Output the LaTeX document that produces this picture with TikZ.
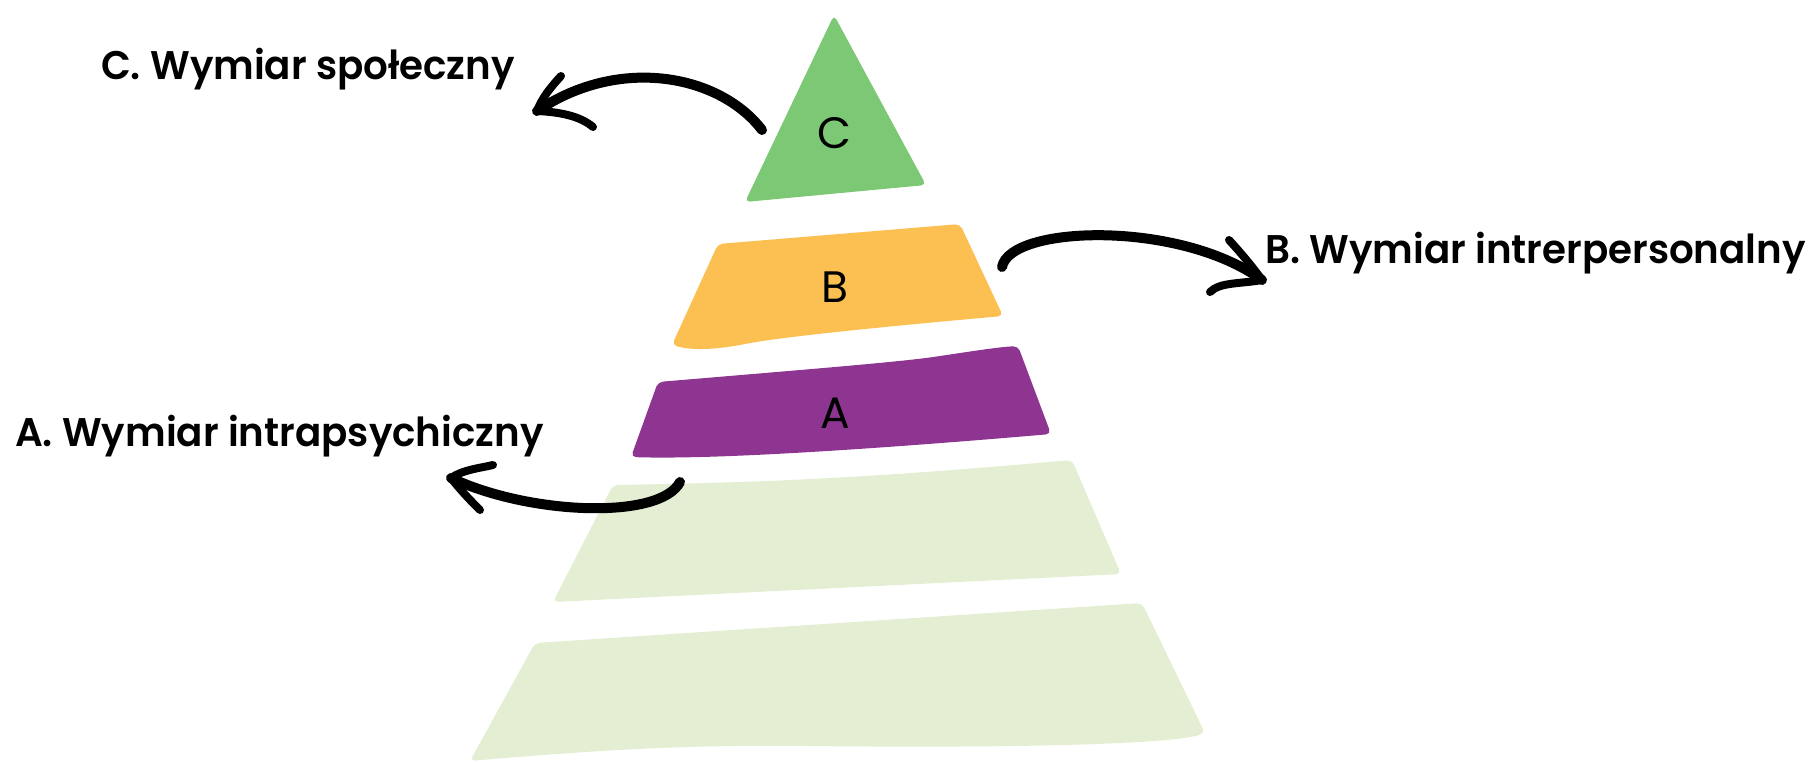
\documentclass[tikz,border=0pt]{standalone}
\usepackage{fontspec}
\setmainfont{Poppins}
\IfFontExistsTF{Poppins SemiBold}
  {\newfontfamily\titlefont{Poppins SemiBold}[FakeStretch=0.97]}
  {\newfontfamily\titlefont{Poppins}[FakeStretch=0.95,UprightFont=*,BoldFont=*]}
\definecolor{cgreen}{RGB}{125,200,116}
\definecolor{corange}{RGB}{251,191,82}
\definecolor{cpurple}{RGB}{142,52,145}
\definecolor{clight}{RGB}{227,238,211}
\tikzset{
  band/.style={rounded corners=5pt},
  letter/.style={font=\fontsize{44}{48}\selectfont, inner sep=0pt},
  title/.style={font=\fontsize{40}{44}\selectfont\titlefont, inner sep=0pt, anchor=base west},
  brush/.style={line width=10pt, line cap=round, line join=round},
  barb/.style={line width=8pt, line cap=round, line join=round}
}
\begin{document}
\begin{tikzpicture}[x=1pt,y=-1pt]
\useasboundingbox (0,0) rectangle (1815,761);
% bands
\fill[clight,band] (535,643) -- (1142,603) -- (1205,733) .. controls (1170,745) and (1000,748) .. (809,746) .. controls (700,745) and (620,748) .. (470,761) -- cycle;
\fill[clight,band] (613,485) .. controls (800,482) and (900,475) .. (1072,460) -- (1121,574) -- (553,602) -- cycle;
\fill[cpurple,band] (658,382) .. controls (800,370) and (900,362) .. (940,356) .. controls (980,350) and (1000,347) .. (1018,346) -- (1051,434) .. controls (900,447) and (720,460) .. (631,457) -- cycle;
\fill[corange,band] (718,244) -- (960,224) -- (1003,316) .. controls (880,327) and (780,337) .. (740,345) .. controls (710,350) and (690,350) .. (672,345) -- cycle;
\fill[cgreen,band] (834,15) -- (926,185) -- (745,202) -- cycle;
% letters
\node[letter] (lc) at (834,133) {C};
\node[letter] (lb) at (835,287) {B};
\node[letter] (la) at (835,413) {A};
% titles
\node[title] (tc) at (101,79) {C. Wymiar społeczny};
\node[title] (tb) at (1265,263) {B. Wymiar intrerpersonalny};
\node[title] (ta) at (15,446) {A. Wymiar intrapsychiczny};
% arrow C
\coordinate (cTail) at (762,130);
\coordinate (cTip) at (537,111);
\coordinate (cB1) at (561,76);
\coordinate (cB2) at (593,127);
\draw[brush] (cTail) .. controls (720,75) and (620,55) .. (cTip);
\draw[barb] (cB1) .. controls (550,88) and (542,98) .. (cTip) .. controls (560,112) and (580,116) .. (cB2);
% arrow B
\coordinate (bTail) at (1002,267);
\coordinate (bTip) at (1262,280);
\coordinate (bB1) at (1229,240);
\coordinate (bB2) at (1210,292);
\draw[brush] (bTail) .. controls (1010,225) and (1180,220) .. (bTip);
\draw[barb] (bB1) .. controls (1240,252) and (1252,266) .. (bTip) .. controls (1240,284) and (1220,282) .. (bB2);
% arrow A
\coordinate (aTail) at (680,482);
\coordinate (aTip) at (451,478);
\coordinate (aB1) at (493,465);
\coordinate (aB2) at (480,510);
\draw[brush] (aTail) .. controls (660,520) and (530,515) .. (aTip);
\draw[barb] (aB1) .. controls (480,468) and (462,470) .. (aTip) .. controls (462,492) and (472,502) .. (aB2);
\end{tikzpicture}
\end{document}
